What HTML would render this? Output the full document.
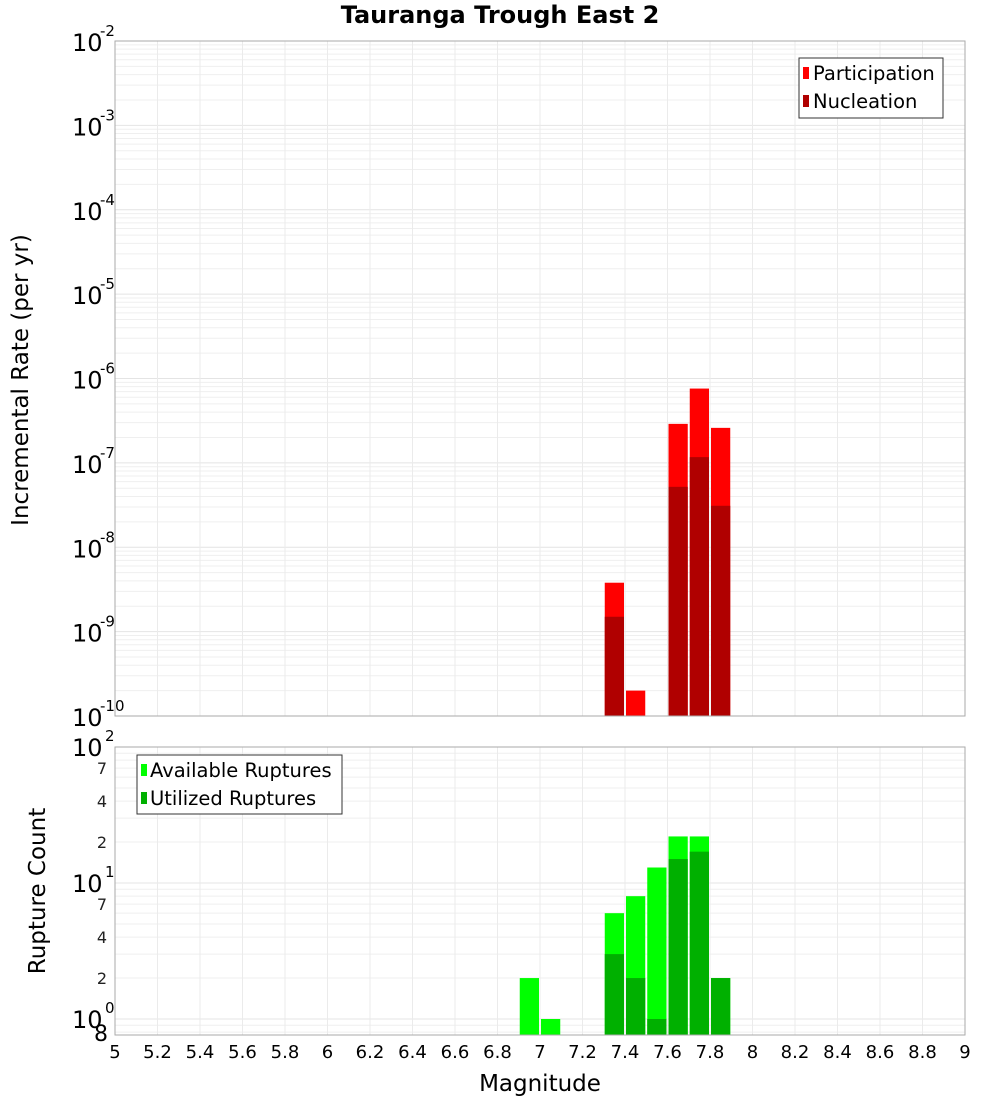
<!DOCTYPE html>
<html><head><meta charset="utf-8"><style>
body{margin:0;background:#fff;font-family:"DejaVu Sans","Liberation Sans",sans-serif;}
svg text{font-family:"DejaVu Sans","Liberation Sans",sans-serif;}
</style></head><body>
<svg id="chart" width="1000" height="1100" xmlns="http://www.w3.org/2000/svg">
<text x="500" y="23" text-anchor="middle" font-size="24" font-weight="bold">Tauranga Trough East 2</text>
<g id="top"></g>
<g id="bot"></g>
<text transform="translate(28,380) rotate(-90)" text-anchor="middle" font-size="23">Incremental Rate (per yr)</text>
<text transform="translate(45,891) rotate(-90)" text-anchor="middle" font-size="23">Rupture Count</text>
<text x="540" y="1091" text-anchor="middle" font-size="23">Magnitude</text>
<g>
<rect x="799" y="58" width="144" height="60" fill="#fff" stroke="#333"/>
<rect x="803" y="67" width="6" height="12" fill="#ff0000"/><text x="813" y="80" font-size="19.5">Participation</text>
<rect x="803" y="95" width="6" height="12" fill="#b00000"/><text x="813" y="108" font-size="19.5">Nucleation</text>
</g>
<g>
<rect x="137" y="755" width="205" height="59" fill="#fff" stroke="#333"/>
<rect x="141" y="764" width="6" height="12" fill="#00ff00"/><text x="150" y="777" font-size="19.5">Available Ruptures</text>
<rect x="141" y="792" width="6" height="12" fill="#00b000"/><text x="150" y="805" font-size="19.5">Utilized Ruptures</text>
</g>
</svg>
<script>
const mags = [6.95, 7.05, 7.35, 7.45, 7.55, 7.65, 7.75, 7.85];
const participation = [0, 0, 3.8e-9, 2e-10, 0, 2.9e-7, 7.6e-7, 2.6e-7];
const nucleation = [0, 0, 1.5e-9, 0, 0, 5.2e-8, 1.17e-7, 3.1e-8];
const available = [2, 1, 6, 8, 13, 22, 22, 2];
const utilized = [0, 0, 3, 2, 1, 15, 17, 2];
const xTicks = [5,5.2,5.4,5.6,5.8,6,6.2,6.4,6.6,6.8,7,7.2,7.4,7.6,7.8,8,8.2,8.4,8.6,8.8,9];

const NS="http://www.w3.org/2000/svg";
const X0=115,X1=965;
const x=m=>X0+(m-5)/4*(X1-X0);
const T0=41,T1=716; const yT=v=>T0+(-2-Math.log10(v))/8*(T1-T0);
const B0=747,B1=1035; const yB=v=>B0+(2-Math.log10(v))*136;
function mk(p,tag,a){const e=document.createElementNS(NS,tag);for(const k in a)e.setAttribute(k,a[k]);p.appendChild(e);return e;}
const topG=document.getElementById('top'),botG=document.getElementById('bot'),svg=document.getElementById('chart');
function frame(g,y0,y1,hy){
  mk(g,'rect',{x:X0,y:y0,width:X1-X0,height:y1-y0,fill:'#fff'});
  hy.forEach(([y,c])=>{if(y>=y0&&y<=y1)mk(g,'line',{x1:X0,x2:X1,y1:y,y2:y,stroke:c,'stroke-width':1});});
  xTicks.forEach(t=>mk(g,'line',{x1:x(t),x2:x(t),y1:y0,y2:y1,stroke:'#ebebeb'}));
}
let hy=[];for(let d=-10;d<-2;d++){for(let k=1;k<10;k++)hy.push([yT(k*Math.pow(10,d)),k==1?'#e4e4e4':'#efefef']);}
frame(topG,T0,T1,hy);
let hb=[];for(let d=-1;d<2;d++){for(let k=1;k<10;k++)hb.push([yB(k*Math.pow(10,d)),k==1?'#e4e4e4':'#efefef']);}
frame(botG,B0,B1,hb);
const bw=(x(5.1)-x(5))-2;
mags.forEach((m,i)=>{
  const xl=x(m)-bw/2;
  if(participation[i]>0){const r=mk(topG,'rect',{x:xl,y:yT(participation[i]),width:bw,height:T1-yT(participation[i]),fill:'#ff0000'});
  
  }
  if(nucleation[i]>0){const r=mk(topG,'rect',{x:xl,y:yT(nucleation[i]),width:bw,height:T1-yT(nucleation[i]),fill:'#b00000'});
  
  }
  if(available[i]>0){const r=mk(botG,'rect',{x:xl,y:yB(available[i]),width:bw,height:B1-yB(available[i]),fill:'#00ff00'});
  
  }
  if(utilized[i]>0){const r=mk(botG,'rect',{x:xl,y:yB(utilized[i]),width:bw,height:B1-yB(utilized[i]),fill:'#00b000'});
  
  }
});
mk(topG,'rect',{x:X0,y:T0,width:X1-X0,height:T1-T0,fill:'none',stroke:'#aaa'});
mk(botG,'rect',{x:X0,y:B0,width:X1-X0,height:B1-B0,fill:'none',stroke:'#aaa'});
xTicks.forEach(t=>{const e=mk(svg,'text',{x:x(t),y:1058,'text-anchor':'middle','font-size':18});e.textContent=String(t);

});
for(let d=-10;d<=-2;d++){const y=yT(Math.pow(10,d));
  const e=mk(svg,'text',{x:72,y:y+10,'font-size':24});e.textContent='10';
  
  
  const s=mk(svg,'text',{x:100,y:y-5,'font-size':15});s.textContent=String(d);}
[[100,'2'],[10,'1'],[1,'0']].forEach(([v,p])=>{const y=yB(v);
  const e=mk(svg,'text',{x:72,y:y+9,'font-size':24});e.textContent='10';
  
  
  const s=mk(svg,'text',{x:105,y:y-6,'font-size':15});s.textContent=p;});
[70,40,20,7,4,2].forEach(v=>{const e=mk(svg,'text',{x:107,y:yB(v)+6,'font-size':16,'text-anchor':'end',fill:'#222'});e.textContent=String(v).charAt(0);

});
{const e=mk(svg,'text',{x:108,y:yB(0.8)+9,'font-size':22,'text-anchor':'end'});e.textContent='8';}
</script>
</body></html>
